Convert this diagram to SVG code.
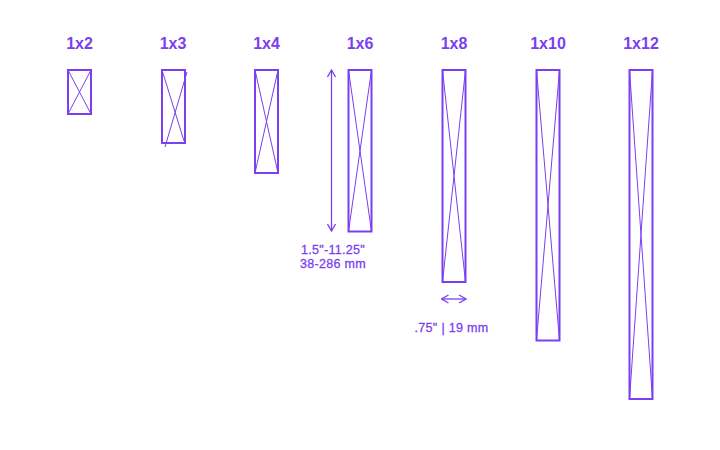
<svg xmlns="http://www.w3.org/2000/svg" width="720" height="450" viewBox="0 0 720 450">
<style>
.bg{fill:#ffffff}
.lbl{font-family:"Liberation Sans",Arial,sans-serif;font-weight:bold;font-size:16px;fill:#7a3ff0;text-anchor:middle}
.dim{font-family:"Liberation Sans",Arial,sans-serif;font-size:12.5px;fill:#7a3ff0;text-anchor:middle;stroke:#7a3ff0;stroke-width:0.3;letter-spacing:0.3px}
.board{fill:none;stroke:#7a3ff0;stroke-width:2}
.x{stroke:#7a3ff0;stroke-width:1;fill:none}
.dl{stroke:#7a3ff0;stroke-width:1.3;fill:none}
</style>
<defs>
<marker id="ah" viewBox="0 0 10 10" refX="9" refY="5" markerWidth="10" markerHeight="10" orient="auto-start-reverse" markerUnits="userSpaceOnUse">
<path d="M2,1 L9,5 L2,9" fill="none" stroke="#7a3ff0" stroke-width="1.3"/>
</marker>
</defs>
<rect class="bg" x="0" y="0" width="720" height="450"/>
<g id="b1x2">
<text class="lbl" x="79.5" y="49">1x2</text>
<rect class="board" x="68" y="70" width="23" height="44"/>
<path class="x" d="M68,70 L91,114 M91,70 L68,114"/>
</g>
<g id="b1x3">
<text class="lbl" x="173" y="49">1x3</text>
<rect class="board" x="162" y="70" width="23" height="73"/>
<path class="x" d="M162,70 L184,141 M187,72 L165,147"/>
</g>
<g id="b1x4">
<text class="lbl" x="266.5" y="49">1x4</text>
<rect class="board" x="255" y="70" width="23" height="103"/>
<path class="x" d="M255,70 L278,173 M278,70 L255,173"/>
</g>
<g id="b1x6">
<text class="lbl" x="360" y="49">1x6</text>
<rect class="board" x="348.5" y="70" width="23" height="161.5"/>
<path class="x" d="M348.5,70 L371.5,231.5 M371.5,70 L348.5,231.5"/>
</g>
<g id="b1x8">
<text class="lbl" x="454" y="49">1x8</text>
<rect class="board" x="442.5" y="70" width="23" height="212"/>
<path class="x" d="M442.5,70 L465.5,282 M465.5,70 L442.5,282"/>
</g>
<g id="b1x10">
<text class="lbl" x="548" y="49">1x10</text>
<rect class="board" x="536.5" y="70" width="23" height="270.5"/>
<path class="x" d="M536.5,70 L559.5,340.5 M559.5,70 L536.5,340.5"/>
</g>
<g id="b1x12">
<text class="lbl" x="641" y="49">1x12</text>
<rect class="board" x="629.5" y="70" width="23" height="329"/>
<path class="x" d="M629.5,70 L652.5,399 M652.5,70 L629.5,399"/>
</g>
<g id="connectors">
<line class="dl" x1="331.5" y1="70" x2="331.5" y2="231" marker-start="url(#ah)" marker-end="url(#ah)"/>
<line class="dl" x1="441.5" y1="299" x2="466" y2="299" marker-start="url(#ah)" marker-end="url(#ah)"/>
</g>
<g id="dims">
<text class="dim" x="333" y="254">1.5"-11.25"</text>
<text class="dim" x="333" y="268">38-286 mm</text>
<text class="dim" x="451.5" y="332">.75" | 19 mm</text>
</g>
</svg>
